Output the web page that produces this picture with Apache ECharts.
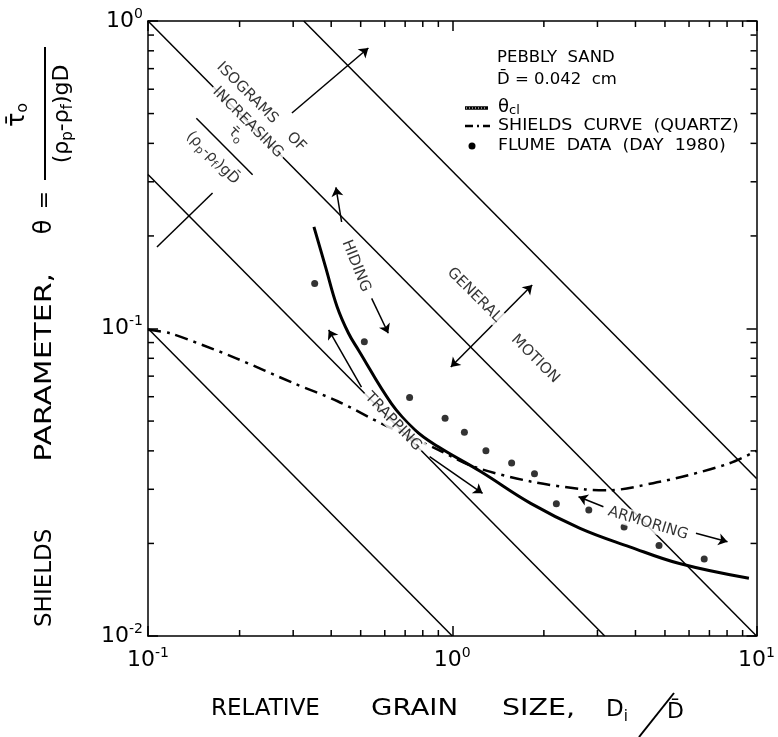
<!DOCTYPE html>
<html><head><meta charset="utf-8">
<script src="https://cdn.jsdelivr.net/npm/echarts@6/dist/echarts.min.js"></script>
<style>html,body{margin:0;padding:0;background:#fff}#c{width:778px;height:737px}</style>
</head><body><div id="c"></div>
<script>
const FONT = 'DejaVu Sans';

// ---- data ----
const flumeX = [0.353, 0.514, 0.724, 0.947, 1.096, 1.29, 1.567, 1.863, 2.198, 2.81, 3.67, 4.78, 6.73];
const flumeY = [0.140, 0.0906, 0.0597, 0.0511, 0.0460, 0.0400, 0.0365, 0.0337, 0.0269, 0.0257, 0.0226, 0.0197, 0.0178];

const shieldsX = [0.1, 0.118, 0.151, 0.195, 0.30, 0.42, 0.60, 0.90, 1.18, 1.81, 2.70, 3.30, 4.57, 5.87, 8.12, 10];
const shieldsY = [0.099, 0.0965, 0.0884, 0.080, 0.0665, 0.0580, 0.0485, 0.0403, 0.0355, 0.0318, 0.0300, 0.0298, 0.0314, 0.0332, 0.0364, 0.040];

const thetaClX = [0.351, 0.383, 0.418, 0.456, 0.492, 0.631, 0.753, 0.897, 1.243, 1.81, 2.63, 3.83, 5.58, 9.44];
const thetaClY = [0.214, 0.159, 0.118, 0.0965, 0.085, 0.057, 0.0468, 0.0413, 0.0342, 0.0270, 0.0224, 0.0195, 0.0172, 0.0154];

// isograms (lines of constant tau0/((rho_p-rho_f) g Dbar)), end points
const isogramLines = [
  [[0.1, 0.1], [1, 0.01]],
  [[0.1, 0.317], [3.17, 0.01]],
  [[0.1, 1], [10, 0.01]],
  [[0.325, 1], [10, 0.0325]]
];

const minorTicksX = [0.2,0.3,0.4,0.5,0.6,0.7,0.8,0.9,2,3,4,5,6,7,8,9];
const minorTicksY = [0.02,0.03,0.04,0.05,0.06,0.07,0.08,0.09,0.2,0.3,0.4,0.5,0.6,0.7,0.8,0.9];

const seriesNames = ['θcl', 'SHIELDS  CURVE  (QUARTZ)', 'FLUME  DATA  (DAY  1980)'];

// ---- annotations (data coordinates) ----
const noteTexts = [
  {text: 'ISOGRAMS    OF', at: [0.2355, 0.5253], rotate: -45},
  {text: 'INCREASING', at: [0.2128, 0.4677], rotate: -45},
  {text: '{t|τ\u0304}{sb|o}', at: [0.1944, 0.4275], rotate: -45},
  {text: '{t|(ρ}{sb|p}{t|-ρ}{sb|f}{t|)gD\u0304}', at: [0.1630, 0.3584], rotate: -45},
  {text: 'HIDING', at: [0.4826, 0.1597], rotate: -68},
  {text: 'TRAPPING', at: [0.6397, 0.04975], rotate: -46},
  {text: 'GENERAL', at: [1.1815, 0.1285], rotate: -45},
  {text: 'MOTION', at: [1.8727, 0.0796], rotate: -45},
  {text: 'ARMORING', at: [4.40, 0.02325], rotate: -17}
];
const plainSegments = [
  [[0.1442, 0.4830], [0.2207, 0.3161]],
  [[0.1070, 0.1841], [0.1630, 0.2759]]
];
const arrowSegments = [   // arrow head at the last point
  [[0.2972, 0.5021], [0.5300, 0.8168]],
  [[0.4328, 0.222], [0.4146, 0.2878]],
  [[0.5433, 0.1253], [0.6161, 0.0965]],
  [[0.5029, 0.0645], [0.3925, 0.0989]],
  [[0.8426, 0.0383], [1.2575, 0.0291]],
  [[3.139, 0.02633], [2.600, 0.02838]],
  [[6.323, 0.02158], [8.025, 0.02026]]
];
const doubleArrowSegments = [
  [[0.9888, 0.0749], [1.831, 0.1385]]
];

const zip = (a, b) => a.map((v, i) => [v, b[i]]);

const supRich = {
  b: {fontSize: 22, fontFamily: FONT, color: '#000'},
  s: {fontSize: 14, fontFamily: FONT, color: '#000', padding: [0, 0, 14, 0]}
};
const expFmt = v => '{b|10}{s|' + Math.round(Math.log10(v)) + '}';

const axisCommon = {
  type: 'log', logBase: 10,
  axisLine: {show: true, lineStyle: {color: '#000', width: 1.5}},
  axisTick: {show: true, inside: true, length: 10, lineStyle: {color: '#000', width: 1.5}},
  splitLine: {show: false},
  minorTick: {show: false}
};

const txt = (x, y, text, size, extra) => ({type: 'text', x: x, y: y,
  style: Object.assign({text: text, font: size + 'px "DejaVu Sans"', fill: '#000', verticalAlign: 'middle'}, extra || {})});

const chart = echarts.init(document.getElementById('c'), null, {renderer: 'canvas'});

const option = {
  animation: false,
  backgroundColor: '#fff',
  grid: {left: 148, right: 17, top: 21, bottom: 101},
  xAxis: [
    Object.assign({}, axisCommon, {min: 0.1, max: 10, position: 'bottom',
      axisLabel: {formatter: expFmt, rich: supRich, margin: 10}}),
    Object.assign({}, axisCommon, {min: 0.1, max: 10, position: 'top', axisLabel: {show: false}})
  ],
  yAxis: [
    Object.assign({}, axisCommon, {min: 0.01, max: 1, position: 'left',
      axisLabel: {formatter: expFmt, rich: supRich, margin: 5}}),
    Object.assign({}, axisCommon, {min: 0.01, max: 1, position: 'right', axisLabel: {show: false}})
  ],
  graphic: [
    // header + legend key
    Object.assign(txt(497, 58, 'PEBBLY  SAND', 15), {scaleX: 1.1}),
    Object.assign(txt(497, 80, 'D\u0304 = 0.042  cm', 15), {scaleX: 1.1}),
    {type: 'line', shape: {x1: 465, y1: 108, x2: 488, y2: 108}, style: {stroke: '#000', lineWidth: 3.5}},
    {type: 'line', shape: {x1: 466, y1: 108, x2: 487, y2: 108}, style: {stroke: '#fff', lineWidth: 1, lineDash: [1, 2]}},
    txt(498, 107, '{th|θ}{sb|cl}', 17, {rich: {th: {fontSize: 18, fontFamily: FONT}, sb: {fontSize: 13, fontFamily: FONT, padding: [7, 0, 0, 0]}}}),
    {type: 'line', shape: {x1: 465, y1: 126, x2: 490, y2: 126}, style: {stroke: '#000', lineWidth: 2.5, lineDash: [8, 4, 2, 4]}},
    Object.assign(txt(498, 126, seriesNames[1], 15), {scaleX: 1.16}),
    {type: 'circle', shape: {cx: 472, cy: 146, r: 3.5}, style: {fill: '#000'}},
    Object.assign(txt(498, 146, seriesNames[2], 15), {scaleX: 1.16}),
    // x axis title
    txt(211, 709, 'RELATIVE', 23),
    Object.assign(txt(371, 709, 'GRAIN', 23), {scaleX: 1.2}),
    Object.assign(txt(502, 709, 'SIZE,', 23), {scaleX: 1.24}),
    txt(606, 710, '{t|D}{sb|i}', 23, {rich: {t: {fontSize: 23, fontFamily: FONT}, sb: {fontSize: 15, fontFamily: FONT, padding: [14, 0, 0, 0]}}}),
    {type: 'line', shape: {x1: 639, y1: 737, x2: 674, y2: 693}, style: {stroke: '#000', lineWidth: 2}},
    txt(667, 712, 'D\u0304', 22),
    // y axis title (rotated, reads bottom to top)
    {type: 'group', x: 45, y: 636, rotation: Math.PI / 2, children: [
      txt(9, 0, 'SHIELDS', 23, {align: 'left'}),
      Object.assign(txt(363, 0, 'PARAMETER,', 23, {align: 'right'}), {scaleX: 1.3}),
      txt(409, 0, 'θ', 24, {align: 'center'}),
      txt(436, 0, '=', 22, {align: 'center'}),
      {type: 'line', shape: {x1: 456, y1: 0, x2: 589, y2: 0}, style: {stroke: '#000', lineWidth: 2}},
      {type: 'text', x: 521, y: -14, style: {text: '{t|τ\u0304}{sb|o}', align: 'center', verticalAlign: 'bottom', fill: '#000',
        rich: {t: {fontSize: 24, fontFamily: FONT}, sb: {fontSize: 16, fontFamily: FONT, padding: [10, 0, 0, 0]}}}},
      {type: 'text', x: 522, y: 4, style: {text: '{t|(ρ}{sb|p}{t|-ρ}{sb|f}{t|)gD}', align: 'center', verticalAlign: 'top', fill: '#000',
        rich: {t: {fontSize: 22, fontFamily: FONT}, sb: {fontSize: 15, fontFamily: FONT, padding: [12, 0, 0, 0]}}}}
    ]}
  ],
  series: [
    {
      type: 'custom', name: 'minor ticks', xAxisIndex: 0, yAxisIndex: 0, silent: true, z: 5,
      encode: {x: 0, y: 1},
      data: minorTicksX.map(v => [v, 0.1, 0]).concat(minorTicksY.map(v => [1, v, 1])),
      renderItem: (params, api) => {
        const cs = params.coordSys, L = 6;
        const st = {stroke: '#000', lineWidth: 1.5};
        if (api.value(2) === 0) {
          const px = api.coord([api.value(0), 0.1])[0];
          const b = cs.y + cs.height, t = cs.y;
          return {type: 'group', children: [
            {type: 'line', shape: {x1: px, y1: b, x2: px, y2: b - L}, style: st},
            {type: 'line', shape: {x1: px, y1: t, x2: px, y2: t + L}, style: st}]};
        } else {
          const py = api.coord([1, api.value(1)])[1];
          const l = cs.x, r = cs.x + cs.width;
          return {type: 'group', children: [
            {type: 'line', shape: {x1: l, y1: py, x2: l + L, y2: py}, style: st},
            {type: 'line', shape: {x1: r, y1: py, x2: r - L, y2: py}, style: st}]};
        }
      }
    },
    {
      type: 'lines', name: 'isograms', coordinateSystem: 'cartesian2d', z: 2, silent: true,
      data: isogramLines.map(c => ({coords: c})),
      lineStyle: {color: '#000', width: 1.5, opacity: 1}, symbol: 'none'
    },
    {
      type: 'lines', name: 'note lines', coordinateSystem: 'cartesian2d', z: 2, silent: true,
      data: plainSegments.map(c => ({coords: c})),
      lineStyle: {color: '#000', width: 1.5, opacity: 1}, symbol: 'none'
    },
    {
      type: 'lines', name: 'arrows', coordinateSystem: 'cartesian2d', z: 3, silent: true,
      data: arrowSegments.map(c => ({coords: c})),
      lineStyle: {color: '#000', width: 1.5, opacity: 1}, symbol: ['none', 'arrow'], symbolSize: 9
    },
    {
      type: 'lines', name: 'double arrows', coordinateSystem: 'cartesian2d', z: 3, silent: true,
      data: doubleArrowSegments.map(c => ({coords: c})),
      lineStyle: {color: '#000', width: 1.5, opacity: 1}, symbol: ['arrow', 'arrow'], symbolSize: 9
    },
    {
      type: 'line', name: seriesNames[0], data: zip(thetaClX, thetaClY), smooth: 0.4,
      showSymbol: false, symbol: 'none', z: 4,
      lineStyle: {color: '#000', width: 3}, itemStyle: {color: '#000'}
    },
    {
      type: 'line', name: seriesNames[1], data: zip(shieldsX, shieldsY), smooth: 0.3,
      showSymbol: false, symbol: 'none', z: 4,
      lineStyle: {color: '#000', width: 2.5, type: [13, 6, 3, 6]}, itemStyle: {color: '#000'}
    },
    {
      type: 'scatter', name: seriesNames[2], data: zip(flumeX, flumeY), symbol: 'circle', symbolSize: 7, z: 6,
      itemStyle: {color: '#000'}
    },
    {
      type: 'scatter', name: 'notes', symbolSize: 0, z: 10, silent: true,
      data: noteTexts.map(n => ({value: n.at, label: {formatter: n.text, rotate: n.rotate}})),
      label: {show: true, position: 'inside', color: '#000', fontFamily: FONT, fontSize: 15,
        backgroundColor: '#fff', padding: [1, 3],
        rich: {t: {fontSize: 15, fontFamily: FONT, color: '#000'},
               sb: {fontSize: 11, fontFamily: FONT, color: '#000', padding: [8, 0, 0, 0]}}}
    }
  ]
};
chart.setOption(option);
</script></body></html>
